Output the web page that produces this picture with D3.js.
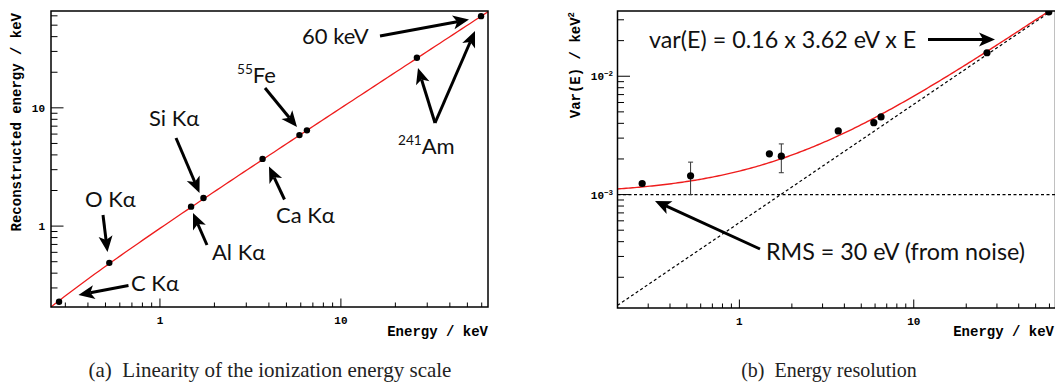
<!DOCTYPE html>
<html>
<head>
<meta charset="utf-8">
<script src="https://cdn.jsdelivr.net/npm/d3@7"></script>
<style>
  html, body { margin: 0; padding: 0; background: #fff; }
  svg { display: block; }
</style>
</head>
<body>
<svg id="chart" width="1055" height="384"></svg>
<script>
// ---------------- DATA ----------------
const lineNames = ["C Kα", "O Kα", "Al Kα", "Si Kα", "Ca Kα", "Fe Kα", "Fe Kβ", "Am 26 keV", "Am 60 keV"];
const trueEnergy = [0.277, 0.525, 1.486, 1.74, 3.69, 5.9, 6.49, 26.3, 59.5];
const recoEnergy = [0.229, 0.489, 1.46, 1.73, 3.70, 5.88, 6.45, 26.5, 59.6];
const linSlope = 1.0;
const linOffset = -0.043;     // keV
const varianceE = [1.24e-3, 1.44e-3, 2.21e-3, 2.11e-3, 3.45e-3, 4.05e-3, 4.53e-3, 0.0158, 0.0349];
const varErrLow  = [null, 1.0e-3, null, 1.53e-3, null, null, null, null, null];
const varErrHigh = [null, 1.88e-3, null, 2.68e-3, null, null, null, null, null];
const noiseVar = 1.0e-3;      // keV^2  (RMS ~ 30 eV)
const fanoFactor = 0.16;
const pairEnergy = 3.62e-3;   // keV
const xTickLabels = [1, 10];
const yTickLabelsA = [1, 10];
const yTickLabelsB = [1e-3, 1e-2];

// ---------------- HELPERS ----------------
const svg = d3.select("#chart");
const monoFont = "'Liberation Mono', 'DejaVu Sans Mono', monospace";
const annFont = "Lato, 'Open Sans', sans-serif";

function minorTicks(domain) {
  const out = [];
  const lo = Math.floor(Math.log10(domain[0])), hi = Math.ceil(Math.log10(domain[1]));
  for (let e = lo; e <= hi; e++) {
    for (let m = 1; m <= 9; m++) {
      const v = m * Math.pow(10, e);
      if (v >= domain[0] && v <= domain[1]) out.push({v, major: m === 1});
    }
  }
  return out;
}

function drawArrow(g, x1, y1, x2, y2, opts = {}) {
  const hl = opts.headLen || 16, hw = opts.headW || 7, w = opts.width || 3;
  const dx = x2 - x1, dy = y2 - y1, L = Math.hypot(dx, dy);
  const ux = dx / L, uy = dy / L;
  const bx = x2 - ux * hl, by = y2 - uy * hl;
  g.append("line").attr("x1", x1).attr("y1", y1)
    .attr("x2", x2 - ux * (hl - 4)).attr("y2", y2 - uy * (hl - 4))
    .attr("stroke", "#000").attr("stroke-width", w);
  g.append("path")
    .attr("d", `M${x2},${y2}L${bx - uy * hw},${by + ux * hw}L${bx + ux * 4},${by + uy * 4}L${bx + uy * hw},${by - ux * hw}Z`)
    .attr("fill", "#000");
}

function drawFrame(g, x, y, w, h) {
  g.append("rect").attr("x", x).attr("y", y).attr("width", w).attr("height", h)
    .attr("fill", "none").attr("stroke", "#000").attr("stroke-width", 1.5);
}

function drawXAxis(g, xs, yBottom, domain) {
  minorTicks(domain).forEach(t => {
    const X = xs(t.v);
    g.append("line").attr("x1", X).attr("x2", X)
      .attr("y1", yBottom).attr("y2", yBottom - (t.major ? 8.5 : 4.5))
      .attr("stroke", "#000").attr("stroke-width", 1);
  });
  xTickLabels.forEach(v => {
    g.append("text").attr("x", xs(v)).attr("y", yBottom + 17)
      .attr("text-anchor", "middle").attr("font-family", monoFont)
      .attr("font-weight", "bold").attr("font-size", 11).text(v);
  });
}

function drawYAxis(g, ys, xLeft, domain) {
  minorTicks(domain).forEach(t => {
    const Y = ys(t.v);
    g.append("line").attr("x1", xLeft).attr("x2", xLeft + (t.major ? 12.5 : 6.5))
      .attr("y1", Y).attr("y2", Y)
      .attr("stroke", "#000").attr("stroke-width", 1);
  });
}

function label(g, x, y, parts, size = 22) {
  const t = g.append("text").attr("x", x).attr("y", y).attr("font-family", annFont)
    .attr("font-size", size).attr("fill", "#111");
  let pending = 0;
  parts.forEach(p => {
    if (p.sup) {
      const sh = size * 0.42;
      t.append("tspan").attr("font-size", size * 0.62).attr("dy", -sh + pending).text(p.sup);
      pending = sh;
    } else {
      t.append("tspan").attr("dy", pending).text(p.t);
      pending = 0;
    }
  });
  return t;
}

// ================= PANEL (a) =================
const A = { x0: 51, x1: 488, y0: 11, y1: 307 };
const domAx = [0.25, 65];
const domAy = [0.207, 65.9];
const xA = d3.scaleLog().domain(domAx).range([A.x0, A.x1]);
const yA = d3.scaleLog().domain(domAy).range([A.y1, A.y0]);
const gA = svg.append("g");

drawYAxis(gA, yA, A.x0, domAy);
drawXAxis(gA, xA, A.y1, domAx);
yTickLabelsA.forEach(v => {
  gA.append("text").attr("x", 45).attr("y", yA(v) + 4)
    .attr("text-anchor", "end").attr("font-family", monoFont)
    .attr("font-weight", "bold").attr("font-size", 11).text(v);
});
// linear fit line
const fitA = d3.range(0, 101).map(i => Math.pow(10, Math.log10(domAx[0]) + i / 100 * Math.log10(domAx[1] / domAx[0])));
gA.append("path")
  .attr("d", d3.line().x(d => xA(d)).y(d => yA(linSlope * d + linOffset))(fitA))
  .attr("fill", "none").attr("stroke", "#ee1c1c").attr("stroke-width", 1.3);
// points
gA.selectAll("circle.pt").data(trueEnergy).enter().append("circle")
  .attr("cx", (d) => xA(d)).attr("cy", (d, i) => yA(recoEnergy[i])).attr("r", 3.2).attr("fill", "#000");
drawFrame(gA, A.x0, A.y0, A.x1 - A.x0, A.y1 - A.y0);

// axis titles
gA.append("text").attr("x", A.x1).attr("y", 336).attr("text-anchor", "end")
  .attr("font-family", monoFont).attr("font-weight", "bold").attr("font-size", 14)
  .text("Energy / keV");
gA.append("text").attr("transform", `translate(21,${A.y0 + 2}) rotate(-90)`)
  .attr("text-anchor", "end").attr("font-family", monoFont).attr("font-weight", "bold")
  .attr("font-size", 14).text("Reconstructed energy / keV");

// annotations (a)
label(gA, 302, 44, [{t: "60 keV"}]);
drawArrow(gA, 380, 36, 469, 19.5);
label(gA, 237, 83, [{sup: "55"}, {t: "Fe"}]);
drawArrow(gA, 265, 88, 297, 127);
label(gA, 398, 154, [{sup: "241"}, {t: "Am"}]);
drawArrow(gA, 435, 123, 418, 68);
drawArrow(gA, 435, 123, 475, 31);
label(gA, 149, 126, [{t: "Si Kα"}]);
drawArrow(gA, 176, 138, 199.5, 193);
label(gA, 85, 207, [{t: "O Kα"}]);
drawArrow(gA, 103, 215, 107.5, 252);
label(gA, 131, 291, [{t: "C Kα"}]);
drawArrow(gA, 128.5, 285.5, 78.5, 295);
label(gA, 276, 223, [{t: "Ca Kα"}]);
drawArrow(gA, 284.5, 199.5, 269, 166.5);
label(gA, 212, 260, [{t: "Al Kα"}]);
drawArrow(gA, 207, 245, 193, 213);

// ================= PANEL (b) =================
const B = { x0: 617.5, x1: 1055.5, y0: 11, y1: 308 };
const domBx = [0.2, 65];
const domBy = [1.1e-4, 0.0356];
const xB = d3.scaleLog().domain(domBx).range([B.x0, B.x1]);
const yB = d3.scaleLog().domain(domBy).range([B.y1, B.y0]);
const gB = svg.append("g");
svg.append("defs").append("clipPath").attr("id", "clipB")
  .append("rect").attr("x", B.x0).attr("y", B.y0).attr("width", B.x1 - B.x0).attr("height", B.y1 - B.y0);

drawYAxis(gB, yB, B.x0, domBy);
drawXAxis(gB, xB, B.y1, domBx);
yTickLabelsB.forEach(v => {
  const t = gB.append("text").attr("x", 613).attr("y", yB(v) + 4)
    .attr("text-anchor", "end").attr("font-family", monoFont)
    .attr("font-weight", "bold").attr("font-size", 11);
  t.append("tspan").text("10");
  t.append("tspan").attr("font-size", 7.5).attr("dy", -4).text("−" + Math.round(-Math.log10(v)));
});

const plotB = gB.append("g").attr("clip-path", "url(#clipB)");
plotB.append("line").attr("x1", B.x0).attr("x2", B.x1)
  .attr("y1", yB(noiseVar)).attr("y2", yB(noiseVar))
  .attr("stroke", "#000").attr("stroke-width", 1.2).attr("stroke-dasharray", "3,2.5");
plotB.append("line")
  .attr("x1", xB(domBx[0])).attr("y1", yB(fanoFactor * pairEnergy * domBx[0]))
  .attr("x2", xB(domBx[1])).attr("y2", yB(fanoFactor * pairEnergy * domBx[1]))
  .attr("stroke", "#000").attr("stroke-width", 1.2).attr("stroke-dasharray", "3,2.5");
const fitE = d3.range(0, 201).map(i => Math.pow(10, Math.log10(domBx[0]) + i / 200 * Math.log10(59.5 / domBx[0])));
plotB.append("path")
  .attr("d", d3.line().x(d => xB(d)).y(d => yB(noiseVar + fanoFactor * pairEnergy * d))(fitE))
  .attr("fill", "none").attr("stroke", "#ee1c1c").attr("stroke-width", 1.4);
trueEnergy.forEach((e, i) => {
  if (varErrLow[i] == null) return;
  const X = xB(e);
  plotB.append("line").attr("x1", X).attr("x2", X)
    .attr("y1", yB(varErrLow[i])).attr("y2", yB(varErrHigh[i]))
    .attr("stroke", "#333").attr("stroke-width", 1);
  [varErrLow[i], varErrHigh[i]].forEach(v => {
    plotB.append("line").attr("x1", X - 2.5).attr("x2", X + 2.5)
      .attr("y1", yB(v)).attr("y2", yB(v)).attr("stroke", "#333").attr("stroke-width", 1);
  });
});
plotB.selectAll("circle.pt").data(trueEnergy).enter().append("circle")
  .attr("cx", d => xB(d)).attr("cy", (d, i) => yB(varianceE[i])).attr("r", 3.6).attr("fill", "#000");
drawFrame(gB, B.x0, B.y0, B.x1 - B.x0, B.y1 - B.y0);

gB.append("text").attr("x", 1054).attr("y", 336).attr("text-anchor", "end")
  .attr("font-family", monoFont).attr("font-weight", "bold").attr("font-size", 14)
  .text("Energy / keV");
const yt = gB.append("text").attr("transform", `translate(580,${B.y0 + 1}) rotate(-90)`)
  .attr("text-anchor", "end").attr("font-family", monoFont).attr("font-weight", "bold")
  .attr("font-size", 14);
yt.append("tspan").text("Var(E)  / keV");
yt.append("tspan").attr("font-size", 9).attr("dy", -6).text("2");

label(gB, 649, 48, [{t: "var(E) = 0.16 x 3.62 eV x E"}], 23.3);
drawArrow(gB, 928, 39.5, 995, 39.5);
label(gB, 766, 260, [{t: "RMS = 30 eV (from noise)"}], 23.3);
drawArrow(gB, 760, 249, 655, 201);

// ================= CAPTIONS =================
const capFont = "'Liberation Serif', 'DejaVu Serif', serif";
svg.append("text").attr("x", 270).attr("y", 377).attr("text-anchor", "middle")
  .attr("font-family", capFont).attr("font-size", 21).attr("fill", "#222")
  .text("(a)\u2002Linearity of the ionization energy scale");
svg.append("text").attr("x", 829).attr("y", 377).attr("text-anchor", "middle")
  .attr("font-family", capFont).attr("font-size", 20).attr("fill", "#222")
  .text("(b)\u2002Energy resolution");
</script>
</body>
</html>
